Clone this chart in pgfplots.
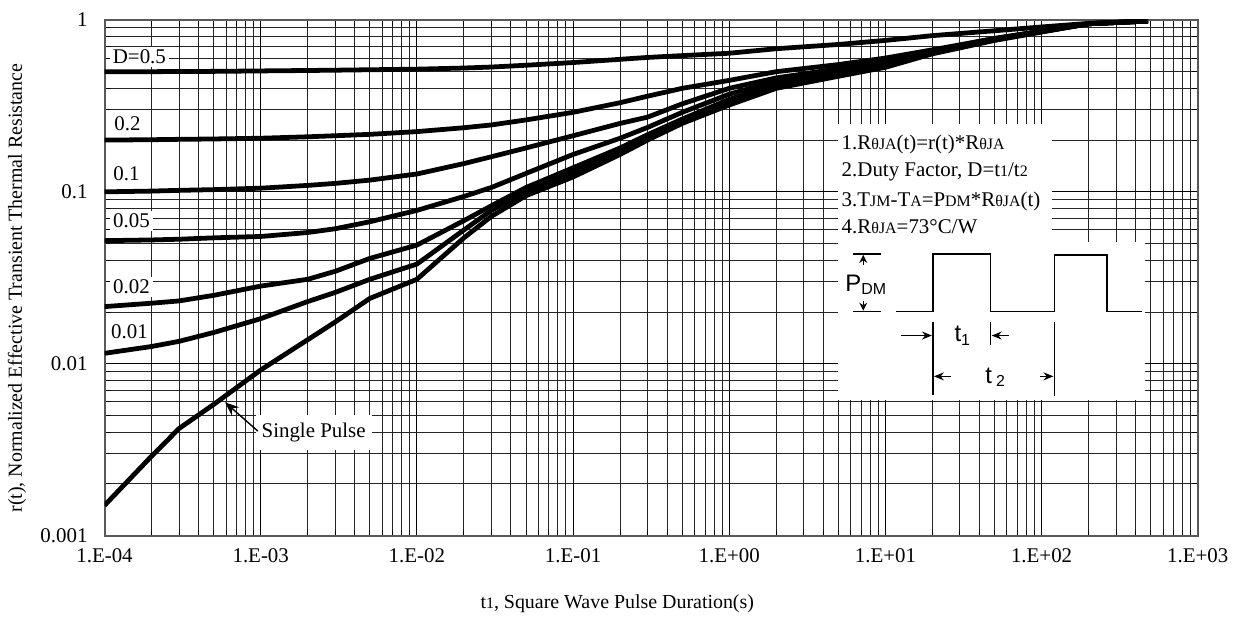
\documentclass[border=0pt]{standalone}
\usepackage{fontspec}
\setmainfont{Liberation Serif}
\newfontfamily\arial{Liberation Sans}
\usepackage{pgfplots}
\pgfplotsset{compat=1.18}
\usepackage{pgfplotstable}
\usetikzlibrary{arrows.meta}

\pgfplotstableread{
x      d05    d02    d01    d005   d002    d001    sp
1e-4   0.500  0.200  0.100  0.052  0.0215  0.0115  0.0015
2e-4   0.500  0.201  0.101  0.0525 0.0225  0.0126  0.0029
3e-4   0.501  0.202  0.102  0.053  0.0232  0.0135  0.0042
5e-4   0.502  0.203  0.103  0.054  0.025   0.0152  0.0058
1e-3   0.505  0.205  0.105  0.055  0.0283  0.0183  0.0092
2e-3   0.508  0.209  0.109  0.058  0.031   0.023   0.0138
3e-3   0.510  0.212  0.112  0.061  0.0345  0.026   0.0175
5e-3   0.513  0.216  0.117  0.067  0.041   0.031   0.024
1e-2   0.517  0.224  0.127  0.078  0.049   0.038   0.031
2e-2   0.525  0.236  0.146  0.094  0.068   0.060   0.054
3e-2   0.532  0.245  0.160  0.106  0.083   0.078   0.072
5e-2   0.545  0.262  0.180  0.128  0.106   0.100   0.095
1e-1   0.565  0.290  0.212  0.165  0.138   0.130   0.122
2e-1   0.590  0.330  0.250  0.205  0.180   0.172   0.165
3e-1   0.605  0.360  0.272  0.237  0.215   0.207   0.200
5e-1   0.620  0.400  0.325  0.290  0.265   0.258   0.250
1      0.640  0.445  0.400  0.370  0.345   0.333   0.320
2      0.680  0.500  0.460  0.440  0.420   0.410   0.400
5      0.720  0.550  0.520  0.500  0.490   0.480   0.470
10     0.760  0.600  0.580  0.560  0.550   0.540   0.530
20     0.810  0.670  0.660  0.650  0.645   0.640   0.635
50     0.865  0.780  0.780  0.770  0.770   0.765   0.760
100    0.910  0.860  0.860  0.860  0.855   0.855   0.850
200    0.955  0.950  0.950  0.950  0.950   0.950   0.950
480    0.985  0.985  0.985  0.985  0.985   0.985   0.985
}\data

\begin{document}
\begin{tikzpicture}
\begin{scope}[x=0.5pt,y=-0.5pt]
\useasboundingbox (0,0) rectangle (1235,617);
\end{scope}
\begin{axis}[
  at={(52.5pt,-269pt)}, anchor=south west,
  scale only axis, width=549pt, height=259pt,
  xmode=log, ymode=log,
  xmin=1e-4, xmax=1e3, ymin=1e-3, ymax=1,
  xtick={1e-4,1e-3,1e-2,1e-1,1,1e1,1e2,1e3},
  xticklabels={1.E-04,1.E-03,1.E-02,1.E-01,1.E+00,1.E+01,1.E+02,1.E+03},
  ytick={1e-3,1e-2,1e-1,1},
  yticklabels={0.001,0.01,0.1,1},
  minor xtick={2e-4,3e-4,4e-4,5e-4,6e-4,7e-4,8e-4,9e-4,
               2e-3,3e-3,4e-3,5e-3,6e-3,7e-3,8e-3,9e-3,
               2e-2,3e-2,4e-2,5e-2,6e-2,7e-2,8e-2,9e-2,
               2e-1,3e-1,4e-1,5e-1,6e-1,7e-1,8e-1,9e-1,
               2,3,4,5,6,7,8,9,
               20,30,40,50,60,70,80,90,
               200,300,400,500,600,700,800,900},
  minor ytick={2e-3,3e-3,4e-3,5e-3,6e-3,7e-3,8e-3,9e-3,
               2e-2,3e-2,4e-2,5e-2,6e-2,7e-2,8e-2,9e-2,
               2e-1,3e-1,4e-1,5e-1,6e-1,7e-1,8e-1,9e-1},
  grid=both,
  major grid style={black, line width=0.5pt},
  minor grid style={black!85, line width=0.5pt},
  axis line style={black!65, line width=1pt},
  tick style={black, line width=0.5pt},
  tick label style={font=\fontsize{10.5}{12}\selectfont},
  xticklabel style={yshift=-3pt},
  yticklabel style={xshift=-5pt},
  xlabel={t{\footnotesize 1}, Square Wave Pulse Duration(s)},
  ylabel={r(t), Normalized Effective Transient Thermal Resistance},
  label style={font=\fontsize{10}{12}\selectfont},
  xlabel style={at={(axis description cs:0.469,-0.132)}, anchor=center},
  ylabel style={at={(axis description cs:-0.08,0.48)}, anchor=center},
]
\pgfplotsset{curve/.style={black, solid, line width=2.4pt, line join=round, mark=none}}
\addplot[curve] table[x=x,y=d05]{\data};
\addplot[curve] table[x=x,y=d02]{\data};
\addplot[curve] table[x=x,y=d01]{\data};
\addplot[curve] table[x=x,y=d005]{\data};
\addplot[curve] table[x=x,y=d002]{\data};
\addplot[curve] table[x=x,y=d001]{\data};
\addplot[curve] table[x=x,y=sp]{\data};
\end{axis}
\begin{scope}[x=0.5pt,y=-0.5pt, font=\fontsize{10.5}{12}\selectfont]
% curve labels
\node[fill=white, inner sep=1.5pt] at (140,57) {D=0.5};
\node[fill=white, inner sep=1.5pt] at (128,124) {0.2};
\node[fill=white, inner sep=1.5pt] at (127,174) {0.1};
\node[fill=white, inner sep=1.5pt] at (132,222) {0.05};
\node[fill=white, inner sep=1.5pt] at (132,288) {0.02};
\node[fill=white, inner sep=1.5pt] at (130,333) {0.01};
% single pulse
\node[fill=white, inner xsep=3pt, inner ysep=4pt] at (315,434) {Single Pulse};
\draw[line width=0.7pt, -{Stealth[length=7pt,width=5.5pt]}] (259,433) -- (226,404);
% note box
\fill[white] (842,125) rectangle (1057,243);
\fill[white] (842,243) rectangle (1150,402);
\node[anchor=west, inner sep=0pt] at (845,145) {1.R{\footnotesize θJA}(t)=r(t)*R{\footnotesize θJA}};
\node[anchor=west, inner sep=0pt] at (845,173) {2.Duty Factor, D=t{\footnotesize 1}/t{\footnotesize 2}};
\node[anchor=west, inner sep=0pt] at (845,202) {3.T{\footnotesize JM}-T{\footnotesize A}=P{\footnotesize DM}*R{\footnotesize θJA}(t)};
\node[anchor=west, inner sep=0pt] at (845,228) {4.R{\footnotesize θJA}=73°C/W};
% pulse diagram
\begin{scope}[line width=0.7pt]
\draw (900,313) -- (937,313) -- (937,255) -- (995,255) -- (995,313) -- (1059,313) -- (1059,256) -- (1112,256) -- (1112,313) -- (1147,313);
\draw (857,255) -- (885,255);
\draw (857,313) -- (885,313);
\draw[-{Stealth[length=4pt,width=4pt]}] (867,266) -- (867,256);
\draw[-{Stealth[length=4pt,width=4pt]}] (867,302) -- (867,312);
\node[font=\arial\fontsize{12}{14}\selectfont, inner sep=0pt] at (870,286) {P\textsubscript{DM}};
\draw (937,323) -- (937,397);
\draw (995,323) -- (995,347);
\draw (1059,323) -- (1059,398);
\draw[-{Stealth[length=5pt,width=4pt]}] (905,337) -- (936,337);
\draw[-{Stealth[length=5pt,width=4pt]}] (1013,337) -- (996,337);
\draw[-{Stealth[length=5pt,width=4pt]}] (955,378) -- (938,378);
\draw[-{Stealth[length=5pt,width=4pt]}] (1045,378) -- (1058,378);
\node[font=\arial\fontsize{12}{14}\selectfont, inner sep=0pt] at (967,337) {t\textsubscript{1}};
\node[font=\arial\fontsize{12}{14}\selectfont, inner sep=0pt] at (1000,379) {t\,\textsubscript{2}};
\end{scope}
\end{scope}
\end{tikzpicture}
\end{document}
